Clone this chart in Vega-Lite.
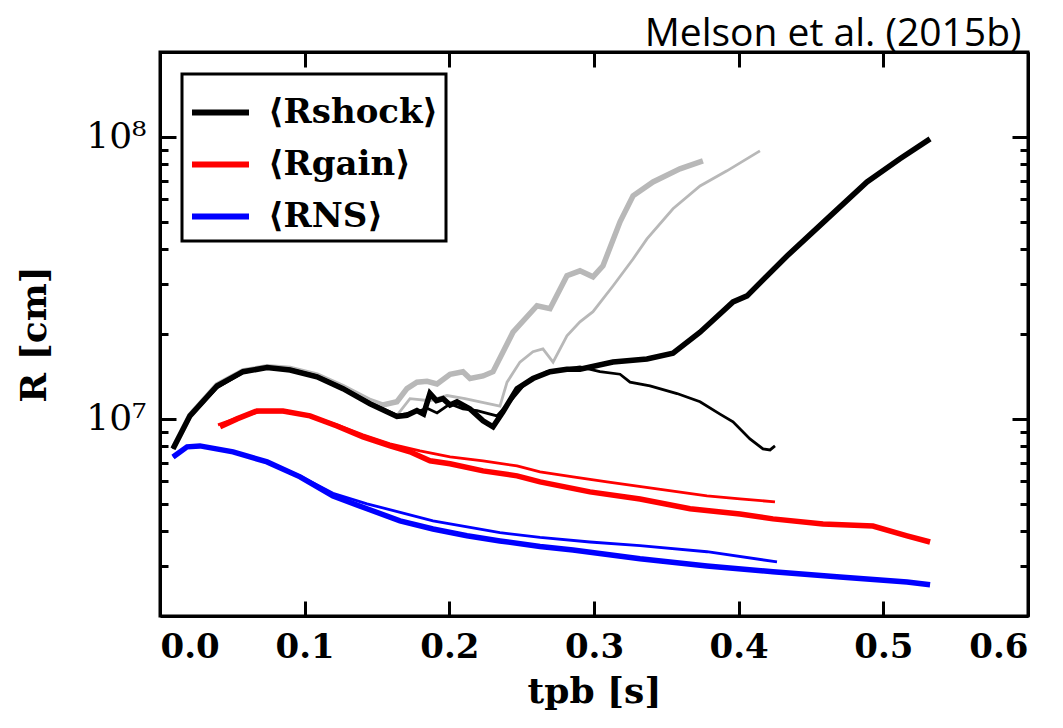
{
  "$schema": "https://vega.github.io/schema/vega-lite/v6.json",
  "width": 868,
  "height": 564,
  "autosize": "none",
  "padding": {"left": 160, "top": 52, "right": 35, "bottom": 112},
  "title": {
    "text": "Melson et al. (2015b)",
    "anchor": "end",
    "font": "Open Sans",
    "fontSize": 39,
    "fontWeight": "normal",
    "color": "black",
    "baseline": "alphabetic",
    "offset": -34,
    "dx": -8
  },
  "config": {
    "view": {"stroke": "black", "strokeWidth": 3},
    "axis": {
      "grid": false,
      "domainColor": "black",
      "domainWidth": 3,
      "tickColor": "black",
      "tickWidth": 3,
      "labelColor": "black",
      "titleColor": "black"
    },
    "legend": {"strokeColor": "black", "strokeWidth": 3}
  },
  "datasets": {
    "gray": [
      {"t": 0.009, "R": 7830000, "m": "thick"},
      {"t": 0.0207, "R": 10300000, "m": "thick"},
      {"t": 0.0394, "R": 13200000, "m": "thick"},
      {"t": 0.0574, "R": 14800000, "m": "thick"},
      {"t": 0.074, "R": 15300000, "m": "thick"},
      {"t": 0.0899, "R": 15100000, "m": "thick"},
      {"t": 0.1085, "R": 14300000, "m": "thick"},
      {"t": 0.1265, "R": 13000000, "m": "thick"},
      {"t": 0.1452, "R": 11600000, "m": "thick"},
      {"t": 0.1541, "R": 11200000, "m": "thick"},
      {"t": 0.1638, "R": 11500000, "m": "thick"},
      {"t": 0.1707, "R": 12800000, "m": "thick"},
      {"t": 0.1776, "R": 13500000, "m": "thick"},
      {"t": 0.1846, "R": 13600000, "m": "thick"},
      {"t": 0.1915, "R": 13300000, "m": "thick"},
      {"t": 0.2005, "R": 14400000, "m": "thick"},
      {"t": 0.2094, "R": 14700000, "m": "thick"},
      {"t": 0.2143, "R": 13900000, "m": "thick"},
      {"t": 0.2233, "R": 14200000, "m": "thick"},
      {"t": 0.2302, "R": 14700000, "m": "thick"},
      {"t": 0.244, "R": 20300000, "m": "thick"},
      {"t": 0.2606, "R": 25200000, "m": "thick"},
      {"t": 0.2696, "R": 24600000, "m": "thick"},
      {"t": 0.2813, "R": 32200000, "m": "thick"},
      {"t": 0.2903, "R": 33500000, "m": "thick"},
      {"t": 0.2993, "R": 31900000, "m": "thick"},
      {"t": 0.3062, "R": 34900000, "m": "thick"},
      {"t": 0.318, "R": 50000000, "m": "thick"},
      {"t": 0.327, "R": 61800000, "m": "thick"},
      {"t": 0.3408, "R": 69200000, "m": "thick"},
      {"t": 0.3594, "R": 77000000, "m": "thick"},
      {"t": 0.3753, "R": 82200000, "m": "thick"},
      {"t": 0.009, "R": 7830000, "m": "thin"},
      {"t": 0.0207, "R": 10200000, "m": "thin"},
      {"t": 0.0394, "R": 12900000, "m": "thin"},
      {"t": 0.0574, "R": 14600000, "m": "thin"},
      {"t": 0.074, "R": 15200000, "m": "thin"},
      {"t": 0.0899, "R": 15000000, "m": "thin"},
      {"t": 0.1085, "R": 14200000, "m": "thin"},
      {"t": 0.1265, "R": 12900000, "m": "thin"},
      {"t": 0.1452, "R": 11400000, "m": "thin"},
      {"t": 0.1638, "R": 10300000, "m": "thin"},
      {"t": 0.1728, "R": 11800000, "m": "thin"},
      {"t": 0.1866, "R": 11600000, "m": "thin"},
      {"t": 0.1984, "R": 12100000, "m": "thin"},
      {"t": 0.2108, "R": 11800000, "m": "thin"},
      {"t": 0.2212, "R": 11500000, "m": "thin"},
      {"t": 0.235, "R": 11100000, "m": "thin"},
      {"t": 0.2399, "R": 13500000, "m": "thin"},
      {"t": 0.2488, "R": 15900000, "m": "thin"},
      {"t": 0.2578, "R": 17300000, "m": "thin"},
      {"t": 0.2647, "R": 17700000, "m": "thin"},
      {"t": 0.2717, "R": 15900000, "m": "thin"},
      {"t": 0.2813, "R": 19700000, "m": "thin"},
      {"t": 0.2903, "R": 22100000, "m": "thin"},
      {"t": 0.2993, "R": 24000000, "m": "thin"},
      {"t": 0.3131, "R": 29600000, "m": "thin"},
      {"t": 0.327, "R": 36900000, "m": "thin"},
      {"t": 0.3366, "R": 43500000, "m": "thin"},
      {"t": 0.3546, "R": 55600000, "m": "thin"},
      {"t": 0.3733, "R": 67000000, "m": "thin"},
      {"t": 0.3919, "R": 75800000, "m": "thin"},
      {"t": 0.4147, "R": 89200000, "m": "thin"}
    ],
    "main": [
      {"t": 0.009, "R": 7830000, "q": "⟨Rshock⟩", "m": "thick"},
      {"t": 0.0207, "R": 10250000, "q": "⟨Rshock⟩", "m": "thick"},
      {"t": 0.0394, "R": 13100000, "q": "⟨Rshock⟩", "m": "thick"},
      {"t": 0.0574, "R": 14700000, "q": "⟨Rshock⟩", "m": "thick"},
      {"t": 0.074, "R": 15200000, "q": "⟨Rshock⟩", "m": "thick"},
      {"t": 0.0899, "R": 14900000, "q": "⟨Rshock⟩", "m": "thick"},
      {"t": 0.1085, "R": 14100000, "q": "⟨Rshock⟩", "m": "thick"},
      {"t": 0.1265, "R": 12800000, "q": "⟨Rshock⟩", "m": "thick"},
      {"t": 0.1452, "R": 11300000, "q": "⟨Rshock⟩", "m": "thick"},
      {"t": 0.1638, "R": 10200000, "q": "⟨Rshock⟩", "m": "thick"},
      {"t": 0.1707, "R": 10300000, "q": "⟨Rshock⟩", "m": "thick"},
      {"t": 0.1776, "R": 10700000, "q": "⟨Rshock⟩", "m": "thick"},
      {"t": 0.1822, "R": 10400000, "q": "⟨Rshock⟩", "m": "thick"},
      {"t": 0.1866, "R": 12300000, "q": "⟨Rshock⟩", "m": "thick"},
      {"t": 0.1911, "R": 11600000, "q": "⟨Rshock⟩", "m": "thick"},
      {"t": 0.1956, "R": 11800000, "q": "⟨Rshock⟩", "m": "thick"},
      {"t": 0.2005, "R": 11200000, "q": "⟨Rshock⟩", "m": "thick"},
      {"t": 0.2053, "R": 11500000, "q": "⟨Rshock⟩", "m": "thick"},
      {"t": 0.2143, "R": 10850000, "q": "⟨Rshock⟩", "m": "thick"},
      {"t": 0.2233, "R": 9840000, "q": "⟨Rshock⟩", "m": "thick"},
      {"t": 0.2302, "R": 9370000, "q": "⟨Rshock⟩", "m": "thick"},
      {"t": 0.2371, "R": 10600000, "q": "⟨Rshock⟩", "m": "thick"},
      {"t": 0.2468, "R": 12800000, "q": "⟨Rshock⟩", "m": "thick"},
      {"t": 0.2578, "R": 13900000, "q": "⟨Rshock⟩", "m": "thick"},
      {"t": 0.2696, "R": 14700000, "q": "⟨Rshock⟩", "m": "thick"},
      {"t": 0.2813, "R": 15000000, "q": "⟨Rshock⟩", "m": "thick"},
      {"t": 0.2903, "R": 15000000, "q": "⟨Rshock⟩", "m": "thick"},
      {"t": 0.3131, "R": 15900000, "q": "⟨Rshock⟩", "m": "thick"},
      {"t": 0.3366, "R": 16300000, "q": "⟨Rshock⟩", "m": "thick"},
      {"t": 0.3546, "R": 17100000, "q": "⟨Rshock⟩", "m": "thick"},
      {"t": 0.3733, "R": 20300000, "q": "⟨Rshock⟩", "m": "thick"},
      {"t": 0.3961, "R": 26000000, "q": "⟨Rshock⟩", "m": "thick"},
      {"t": 0.4058, "R": 27300000, "q": "⟨Rshock⟩", "m": "thick"},
      {"t": 0.4334, "R": 37800000, "q": "⟨Rshock⟩", "m": "thick"},
      {"t": 0.4611, "R": 51200000, "q": "⟨Rshock⟩", "m": "thick"},
      {"t": 0.4887, "R": 69200000, "q": "⟨Rshock⟩", "m": "thick"},
      {"t": 0.5115, "R": 83600000, "q": "⟨Rshock⟩", "m": "thick"},
      {"t": 0.5323, "R": 98400000, "q": "⟨Rshock⟩", "m": "thick"},
      {"t": 0.009, "R": 7830000, "q": "⟨Rshock⟩", "m": "thin"},
      {"t": 0.0207, "R": 10200000, "q": "⟨Rshock⟩", "m": "thin"},
      {"t": 0.0394, "R": 12900000, "q": "⟨Rshock⟩", "m": "thin"},
      {"t": 0.0574, "R": 14600000, "q": "⟨Rshock⟩", "m": "thin"},
      {"t": 0.074, "R": 15200000, "q": "⟨Rshock⟩", "m": "thin"},
      {"t": 0.0899, "R": 15000000, "q": "⟨Rshock⟩", "m": "thin"},
      {"t": 0.1085, "R": 14200000, "q": "⟨Rshock⟩", "m": "thin"},
      {"t": 0.1265, "R": 12900000, "q": "⟨Rshock⟩", "m": "thin"},
      {"t": 0.1452, "R": 11400000, "q": "⟨Rshock⟩", "m": "thin"},
      {"t": 0.1638, "R": 10300000, "q": "⟨Rshock⟩", "m": "thin"},
      {"t": 0.1776, "R": 10600000, "q": "⟨Rshock⟩", "m": "thin"},
      {"t": 0.1846, "R": 10900000, "q": "⟨Rshock⟩", "m": "thin"},
      {"t": 0.1915, "R": 10500000, "q": "⟨Rshock⟩", "m": "thin"},
      {"t": 0.2005, "R": 11300000, "q": "⟨Rshock⟩", "m": "thin"},
      {"t": 0.2094, "R": 10850000, "q": "⟨Rshock⟩", "m": "thin"},
      {"t": 0.2191, "R": 10700000, "q": "⟨Rshock⟩", "m": "thin"},
      {"t": 0.2329, "R": 10250000, "q": "⟨Rshock⟩", "m": "thin"},
      {"t": 0.2419, "R": 11500000, "q": "⟨Rshock⟩", "m": "thin"},
      {"t": 0.2523, "R": 13300000, "q": "⟨Rshock⟩", "m": "thin"},
      {"t": 0.2675, "R": 14700000, "q": "⟨Rshock⟩", "m": "thin"},
      {"t": 0.2903, "R": 15300000, "q": "⟨Rshock⟩", "m": "thin"},
      {"t": 0.3041, "R": 14700000, "q": "⟨Rshock⟩", "m": "thin"},
      {"t": 0.318, "R": 14400000, "q": "⟨Rshock⟩", "m": "thin"},
      {"t": 0.3249, "R": 13500000, "q": "⟨Rshock⟩", "m": "thin"},
      {"t": 0.3387, "R": 13100000, "q": "⟨Rshock⟩", "m": "thin"},
      {"t": 0.3574, "R": 12300000, "q": "⟨Rshock⟩", "m": "thin"},
      {"t": 0.3733, "R": 11500000, "q": "⟨Rshock⟩", "m": "thin"},
      {"t": 0.3871, "R": 10400000, "q": "⟨Rshock⟩", "m": "thin"},
      {"t": 0.3961, "R": 9760000, "q": "⟨Rshock⟩", "m": "thin"},
      {"t": 0.4078, "R": 8490000, "q": "⟨Rshock⟩", "m": "thin"},
      {"t": 0.4168, "R": 7830000, "q": "⟨Rshock⟩", "m": "thin"},
      {"t": 0.4217, "R": 7760000, "q": "⟨Rshock⟩", "m": "thin"},
      {"t": 0.4251, "R": 8020000, "q": "⟨Rshock⟩", "m": "thin"},
      {"t": 0.0415, "R": 9370000, "q": "⟨Rgain⟩", "m": "thick"},
      {"t": 0.0532, "R": 10000000, "q": "⟨Rgain⟩", "m": "thick"},
      {"t": 0.067, "R": 10670000, "q": "⟨Rgain⟩", "m": "thick"},
      {"t": 0.085, "R": 10670000, "q": "⟨Rgain⟩", "m": "thick"},
      {"t": 0.1037, "R": 10250000, "q": "⟨Rgain⟩", "m": "thick"},
      {"t": 0.1223, "R": 9440000, "q": "⟨Rgain⟩", "m": "thick"},
      {"t": 0.1403, "R": 8630000, "q": "⟨Rgain⟩", "m": "thick"},
      {"t": 0.159, "R": 8020000, "q": "⟨Rgain⟩", "m": "thick"},
      {"t": 0.1728, "R": 7640000, "q": "⟨Rgain⟩", "m": "thick"},
      {"t": 0.1866, "R": 7100000, "q": "⟨Rgain⟩", "m": "thick"},
      {"t": 0.2005, "R": 6930000, "q": "⟨Rgain⟩", "m": "thick"},
      {"t": 0.2233, "R": 6540000, "q": "⟨Rgain⟩", "m": "thick"},
      {"t": 0.2468, "R": 6280000, "q": "⟨Rgain⟩", "m": "thick"},
      {"t": 0.2627, "R": 5980000, "q": "⟨Rgain⟩", "m": "thick"},
      {"t": 0.2972, "R": 5510000, "q": "⟨Rgain⟩", "m": "thick"},
      {"t": 0.3318, "R": 5200000, "q": "⟨Rgain⟩", "m": "thick"},
      {"t": 0.3664, "R": 4800000, "q": "⟨Rgain⟩", "m": "thick"},
      {"t": 0.4009, "R": 4600000, "q": "⟨Rgain⟩", "m": "thick"},
      {"t": 0.4237, "R": 4420000, "q": "⟨Rgain⟩", "m": "thick"},
      {"t": 0.4583, "R": 4240000, "q": "⟨Rgain⟩", "m": "thick"},
      {"t": 0.4928, "R": 4170000, "q": "⟨Rgain⟩", "m": "thick"},
      {"t": 0.5164, "R": 3850000, "q": "⟨Rgain⟩", "m": "thick"},
      {"t": 0.5323, "R": 3660000, "q": "⟨Rgain⟩", "m": "thick"},
      {"t": 0.0401, "R": 9520000, "q": "⟨Rgain⟩", "m": "thin"},
      {"t": 0.0553, "R": 10170000, "q": "⟨Rgain⟩", "m": "thin"},
      {"t": 0.0691, "R": 10600000, "q": "⟨Rgain⟩", "m": "thin"},
      {"t": 0.0864, "R": 10600000, "q": "⟨Rgain⟩", "m": "thin"},
      {"t": 0.1037, "R": 10250000, "q": "⟨Rgain⟩", "m": "thin"},
      {"t": 0.1223, "R": 9520000, "q": "⟨Rgain⟩", "m": "thin"},
      {"t": 0.1403, "R": 8780000, "q": "⟨Rgain⟩", "m": "thin"},
      {"t": 0.159, "R": 8160000, "q": "⟨Rgain⟩", "m": "thin"},
      {"t": 0.1797, "R": 7700000, "q": "⟨Rgain⟩", "m": "thin"},
      {"t": 0.2005, "R": 7330000, "q": "⟨Rgain⟩", "m": "thin"},
      {"t": 0.2233, "R": 7100000, "q": "⟨Rgain⟩", "m": "thin"},
      {"t": 0.2468, "R": 6810000, "q": "⟨Rgain⟩", "m": "thin"},
      {"t": 0.2627, "R": 6490000, "q": "⟨Rgain⟩", "m": "thin"},
      {"t": 0.2855, "R": 6230000, "q": "⟨Rgain⟩", "m": "thin"},
      {"t": 0.309, "R": 5980000, "q": "⟨Rgain⟩", "m": "thin"},
      {"t": 0.3435, "R": 5650000, "q": "⟨Rgain⟩", "m": "thin"},
      {"t": 0.3781, "R": 5330000, "q": "⟨Rgain⟩", "m": "thin"},
      {"t": 0.4009, "R": 5200000, "q": "⟨Rgain⟩", "m": "thin"},
      {"t": 0.4251, "R": 5080000, "q": "⟨Rgain⟩", "m": "thin"},
      {"t": 0.009, "R": 7330000, "q": "⟨RNS⟩", "m": "thick"},
      {"t": 0.0187, "R": 7960000, "q": "⟨RNS⟩", "m": "thick"},
      {"t": 0.0276, "R": 8020000, "q": "⟨RNS⟩", "m": "thick"},
      {"t": 0.0505, "R": 7640000, "q": "⟨RNS⟩", "m": "thick"},
      {"t": 0.074, "R": 7040000, "q": "⟨RNS⟩", "m": "thick"},
      {"t": 0.0968, "R": 6230000, "q": "⟨RNS⟩", "m": "thick"},
      {"t": 0.1196, "R": 5330000, "q": "⟨RNS⟩", "m": "thick"},
      {"t": 0.1431, "R": 4800000, "q": "⟨RNS⟩", "m": "thick"},
      {"t": 0.1659, "R": 4350000, "q": "⟨RNS⟩", "m": "thick"},
      {"t": 0.1887, "R": 4070000, "q": "⟨RNS⟩", "m": "thick"},
      {"t": 0.2122, "R": 3850000, "q": "⟨RNS⟩", "m": "thick"},
      {"t": 0.235, "R": 3690000, "q": "⟨RNS⟩", "m": "thick"},
      {"t": 0.2627, "R": 3530000, "q": "⟨RNS⟩", "m": "thick"},
      {"t": 0.2855, "R": 3430000, "q": "⟨RNS⟩", "m": "thick"},
      {"t": 0.3318, "R": 3190000, "q": "⟨RNS⟩", "m": "thick"},
      {"t": 0.3781, "R": 3010000, "q": "⟨RNS⟩", "m": "thick"},
      {"t": 0.4237, "R": 2870000, "q": "⟨RNS⟩", "m": "thick"},
      {"t": 0.47, "R": 2750000, "q": "⟨RNS⟩", "m": "thick"},
      {"t": 0.5164, "R": 2640000, "q": "⟨RNS⟩", "m": "thick"},
      {"t": 0.5323, "R": 2580000, "q": "⟨RNS⟩", "m": "thick"},
      {"t": 0.009, "R": 7330000, "q": "⟨RNS⟩", "m": "thin"},
      {"t": 0.0187, "R": 7960000, "q": "⟨RNS⟩", "m": "thin"},
      {"t": 0.0276, "R": 8020000, "q": "⟨RNS⟩", "m": "thin"},
      {"t": 0.0505, "R": 7660000, "q": "⟨RNS⟩", "m": "thin"},
      {"t": 0.074, "R": 7060000, "q": "⟨RNS⟩", "m": "thin"},
      {"t": 0.0968, "R": 6270000, "q": "⟨RNS⟩", "m": "thin"},
      {"t": 0.1196, "R": 5450000, "q": "⟨RNS⟩", "m": "thin"},
      {"t": 0.1431, "R": 5000000, "q": "⟨RNS⟩", "m": "thin"},
      {"t": 0.1887, "R": 4350000, "q": "⟨RNS⟩", "m": "thin"},
      {"t": 0.235, "R": 3950000, "q": "⟨RNS⟩", "m": "thin"},
      {"t": 0.2627, "R": 3800000, "q": "⟨RNS⟩", "m": "thin"},
      {"t": 0.2972, "R": 3660000, "q": "⟨RNS⟩", "m": "thin"},
      {"t": 0.3318, "R": 3550000, "q": "⟨RNS⟩", "m": "thin"},
      {"t": 0.3781, "R": 3380000, "q": "⟨RNS⟩", "m": "thin"},
      {"t": 0.4265, "R": 3110000, "q": "⟨RNS⟩", "m": "thin"}
    ]
  },
  "layer": [
    {
      "data": {"name": "gray"},
      "mark": {"type": "line", "color": "#b8b8b8"},
      "encoding": {
        "x": {
          "field": "t", "type": "quantitative",
          "scale": {"domain": [0, 0.6], "nice": false, "zero": false},
          "axis": {
            "orient": "bottom",
            "values": [0, 0.1, 0.2, 0.3, 0.4, 0.5, 0.6],
            "format": ".1f",
            "tickSize": -15,
            "labelPadding": 29,
            "labelFont": "DejaVu Serif",
            "labelFontWeight": "bold",
            "labelFontSize": 34,
            "title": "tpb [s]",
            "titleFont": "DejaVu Serif",
            "titleFontWeight": "bold",
            "titleFontSize": 36,
            "titlePadding": 10
          }
        },
        "y": {
          "field": "R", "type": "quantitative",
          "scale": {"type": "log", "domain": [2000000, 200000000], "nice": false},
          "axis": {
            "orient": "left",
            "values": [3000000, 4000000, 5000000, 6000000, 7000000, 8000000, 9000000, 10000000, 20000000, 30000000, 40000000, 50000000, 60000000, 70000000, 80000000, 90000000, 100000000],
            "labelExpr": "datum.value == 10000000 ? '10⁷' : datum.value == 100000000 ? '10⁸' : ''",
            "tickSize": {"condition": {"test": "datum.value == 10000000 || datum.value == 100000000", "value": -16}, "value": -8},
            "labelPadding": 30,
            "labelFont": "DejaVu Serif",
            "labelFontSize": 36,
            "title": "R [cm]",
            "titleFont": "DejaVu Serif",
            "titleFontWeight": "bold",
            "titleFontSize": 36,
            "titlePadding": 32
          }
        },
        "strokeWidth": {
          "field": "m", "type": "nominal",
          "scale": {"domain": ["thick", "thin"], "range": [5.5, 2.8]},
          "legend": null
        }
      }
    },
    {
      "data": {"name": "main"},
      "mark": {"type": "line"},
      "encoding": {
        "x": {
          "field": "t", "type": "quantitative",
          "scale": {"domain": [0, 0.6], "nice": false, "zero": false},
          "axis": {
            "orient": "top",
            "values": [0, 0.1, 0.2, 0.3, 0.4, 0.5, 0.6],
            "tickSize": -15,
            "labels": false,
            "title": null
          }
        },
        "y": {
          "field": "R", "type": "quantitative",
          "scale": {"type": "log", "domain": [2000000, 200000000], "nice": false},
          "axis": {
            "orient": "right",
            "values": [3000000, 4000000, 5000000, 6000000, 7000000, 8000000, 9000000, 10000000, 20000000, 30000000, 40000000, 50000000, 60000000, 70000000, 80000000, 90000000, 100000000],
            "tickSize": {"condition": {"test": "datum.value == 10000000 || datum.value == 100000000", "value": -16}, "value": -8},
            "labels": false,
            "title": null
          }
        },
        "color": {
          "field": "q", "type": "nominal",
          "scale": {"domain": ["⟨Rshock⟩", "⟨Rgain⟩", "⟨RNS⟩"], "range": ["black", "#ff0000", "#0000ff"]},
          "legend": {
            "title": null,
            "orient": "top-left",
            "offset": 22,
            "padding": 7,
            "symbolType": "stroke",
            "symbolSize": 3249,
            "symbolStrokeWidth": 6,
            "labelFont": "DejaVu Serif",
            "labelFontWeight": "bold",
            "labelFontSize": 34,
            "labelOffset": 16,
            "labelLimit": 400,
            "rowPadding": 3,
            "fillColor": "white"
          }
        },
        "strokeWidth": {
          "field": "m", "type": "nominal",
          "scale": {"domain": ["thick", "thin"], "range": [5.5, 2.8]},
          "legend": null
        }
      }
    }
  ],
  "resolve": {"axis": {"x": "independent", "y": "independent"}}
}
